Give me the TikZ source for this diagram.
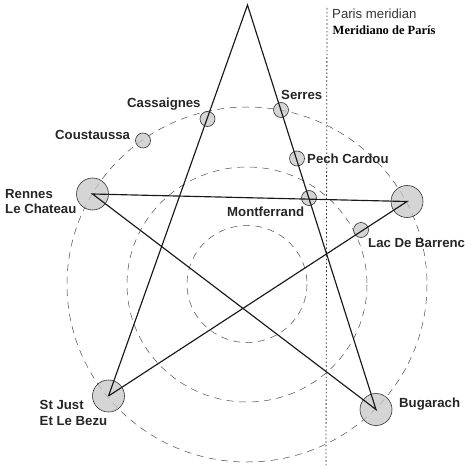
\documentclass[tikz,border=0pt]{standalone}
\usepackage{fontspec}
\setmainfont{Liberation Sans}
\newfontfamily\serifb{Liberation Serif}
\begin{document}
\begin{tikzpicture}[x=1pt,y=-1pt,
  ring/.style={draw=black!70,line width=0.5pt,dash pattern=on 7pt off 5.5pt},
  big/.style={circle,draw=black!80,line width=0.6pt,fill=black!22,fill opacity=0.75,inner sep=0pt,minimum size=32pt},
  small/.style={circle,draw=black!80,line width=0.6pt,fill=black!22,fill opacity=0.75,inner sep=0pt,minimum size=15pt},
  star/.style={draw=black!90,line width=1.15pt,line join=miter},
  lab/.style={font=\fontsize{13.2}{15.5}\selectfont\bfseries,text=black!85,inner sep=0pt,align=left},
]
\useasboundingbox (0,0) rectangle (470,470);
\fill[white] (0,0) rectangle (470,470);
% rings
\draw[ring] (247,284.5) ellipse [x radius=180,y radius=177.5];
\draw[ring] (247,284.5) ellipse [x radius=120,y radius=117.5];
\draw[ring] (247,284) ellipse [x radius=60,y radius=58.5];
% meridian
\coordinate (mtop) at (327,8);
\coordinate (mbot) at (326,465);
\draw[black!80,line width=0.8pt,dash pattern=on 1.6pt off 2.2pt] (mtop) -- (mbot);
% sites
\node[big] (rennes) at (92.5,194) {};
\node[big] (lac) at (407,201.5) {};
\node[big] (just) at (108.5,396) {};
\node[big] (bug) at (376,409.5) {};
\node[small] (cass) at (207.5,119) {};
\node[small] (cous) at (143,140.5) {};
\node[small] (serres) at (281,110) {};
\node[small] (pech) at (297,158.5) {};
\node[small] (mont) at (309,198) {};
\node[small] (barr) at (361,230) {};
\coordinate (apex) at (247.5,5);
% star
\draw[star] (just.center) -- (apex) -- (bug.center) -- (rennes.center) -- (lac.center) -- (just.center);
% labels
\node[lab,anchor=west] (t1) at (127,104.5) {Cassaignes};
\node[lab,anchor=west] (t2) at (55,134.5) {Coustaussa};
\node[lab,anchor=west] (t3) at (281,94.5) {Serres};
\node[lab,anchor=west] (t4) at (307,159) {Pech Cardou};
\node[lab,anchor=west] (t5) at (227,211.5) {Montferrand};
\node[lab,anchor=west] (t6) at (368,243) {Lac De Barrenc};
\node[lab,anchor=west] (t7) at (5,201.5) {Rennes\\Le Chateau};
\node[lab,anchor=west] (t8) at (39.5,413) {St Just\\Et Le Bezu};
\node[lab,anchor=west] (t9) at (399,404) {Bugarach};
\node[anchor=west,inner sep=0pt,font=\fontsize{13.2}{14}\selectfont,text=black!80] (t10) at (332,13.5) {Paris meridian};
\node[anchor=west,inner sep=0pt,font=\serifb\fontsize{12.5}{14}\selectfont\bfseries] (t11) at (332.5,30) {Meridiano de París};
\end{tikzpicture}
\end{document}
